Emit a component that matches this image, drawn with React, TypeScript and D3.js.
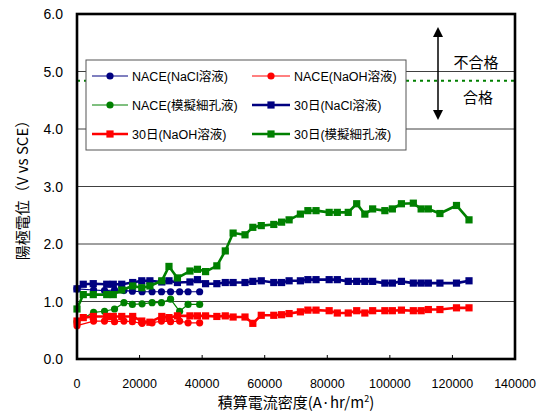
import * as d3 from 'd3';

const WIDTH = 544;
const HEIGHT = 416;
const PLOT = { left: 77, right: 515, top: 14, bottom: 359 } as const;

const X_TICKS = [0, 20000, 40000, 60000, 80000, 100000, 120000, 140000];
const Y_TICKS = [0, 1, 2, 3, 4, 5, 6];

// NACE runs (circles, thin lines)
const NACE_X = [0, 5300, 8800, 12000, 15000, 17700, 20800, 24000, 27000, 29900, 32800, 35500, 39200];
const NACE_NACL = [1.22, 1.2, 1.19, 1.2, 1.19, 1.18, 1.17, 1.17, 1.17, 1.17, 1.17, 1.17, 1.17];
const NACE_NAOH = [0.58, 0.66, 0.66, 0.65, 0.66, 0.65, 0.62, 0.63, 0.66, 0.65, 0.66, 0.63, 0.63];
const NACE_PORE = [0.65, 0.81, 0.83, 0.87, 0.98, 0.95, 0.96, 0.98, 0.98, 1.04, 0.83, 0.95, 0.95];

// 30-day runs (squares, thick lines)
const DAY30_X = [
  0, 2000, 5200, 9500, 11600, 14300, 17800, 20700, 23300, 27100,
  29400, 32100, 36100, 38500, 41100, 44700, 47400, 49900, 53700, 56200,
  58900, 62900, 65400, 67800, 71400, 73800, 76400, 80600, 83200, 86700,
  89400, 92000, 94500, 98400, 100800, 103700, 107500, 110000, 112300, 116000,
  121300, 125300,
];
const DAY30_NACL = [
  1.22, 1.3, 1.31, 1.3, 1.3, 1.3, 1.33, 1.36, 1.36, 1.34,
  1.36, 1.33, 1.34, 1.38, 1.31, 1.31, 1.33, 1.33, 1.33, 1.35,
  1.36, 1.33, 1.33, 1.36, 1.36, 1.38, 1.38, 1.38, 1.38, 1.35,
  1.35, 1.35, 1.35, 1.32, 1.32, 1.35, 1.32, 1.32, 1.32, 1.32,
  1.32, 1.36,
];
const DAY30_NAOH = [
  0.66, 0.72, 0.74, 0.74, 0.74, 0.74, 0.74, 0.66, 0.64, 0.74,
  0.72, 0.75, 0.75, 0.75, 0.75, 0.74, 0.75, 0.73, 0.73, 0.62,
  0.76, 0.76, 0.77, 0.79, 0.82, 0.85, 0.85, 0.84, 0.8, 0.8,
  0.84, 0.8, 0.84, 0.84, 0.84, 0.85, 0.84, 0.84, 0.86, 0.86,
  0.89, 0.89,
];
const DAY30_PORE = [
  0.87, 1.12, 1.12, 1.12, 1.12, 1.2, 1.27, 1.24, 1.27, 1.36,
  1.61, 1.41, 1.53, 1.56, 1.52, 1.62, 1.88, 2.19, 2.16, 2.29,
  2.32, 2.34, 2.38, 2.42, 2.52, 2.58, 2.58, 2.55, 2.55, 2.55,
  2.7, 2.52, 2.61, 2.58, 2.61, 2.7, 2.71, 2.61, 2.61, 2.53,
  2.67, 2.42,
];

const LIMIT_VALUE = 4.84;

const NAVY = '#000080';
const RED = '#ff0000';
const GREEN = '#008000';
const FONT = '"Liberation Sans", Arial, "Noto Sans CJK JP", sans-serif';
const JP_FONT = '"Noto Sans CJK JP", "Liberation Sans", sans-serif';

interface Series {
  label: string;
  xs: number[];
  ys: number[];
  color: string;
  kind: 'nace' | 'day30';
}

const SERIES: Series[] = [
  { label: 'NACE(NaCl溶液)', xs: NACE_X, ys: NACE_NACL, color: NAVY, kind: 'nace' },
  { label: 'NACE(NaOH溶液)', xs: NACE_X, ys: NACE_NAOH, color: RED, kind: 'nace' },
  { label: 'NACE(模擬細孔液)', xs: NACE_X, ys: NACE_PORE, color: GREEN, kind: 'nace' },
  { label: '30日(NaCl溶液)', xs: DAY30_X, ys: DAY30_NACL, color: NAVY, kind: 'day30' },
  { label: '30日(NaOH溶液)', xs: DAY30_X, ys: DAY30_NAOH, color: RED, kind: 'day30' },
  { label: '30日(模擬細孔液)', xs: DAY30_X, ys: DAY30_PORE, color: GREEN, kind: 'day30' },
];

function Marker({ kind, color, x, y }: { kind: Series['kind']; color: string; x: number; y: number }) {
  if (kind === 'nace') return <circle cx={x} cy={y} r={3.6} fill={color} />;
  return <rect x={x - 3.6} y={y - 3.6} width={7.2} height={7.2} fill={color} />;
}

export default function App() {
  const xScale = d3.scaleLinear().domain([0, 140000]).range([PLOT.left, PLOT.right]);
  const yScale = d3.scaleLinear().domain([0, 6]).range([PLOT.bottom, PLOT.top]);

  const line = d3
    .line<[number, number]>()
    .x((d) => xScale(d[0]))
    .y((d) => yScale(d[1]));

  // draw order: NACE first, then the 30-day runs on top
  const drawOrder = [2, 0, 1, 3, 4, 5].map((i) => SERIES[i]);

  const legendRows = [
    [SERIES[0], SERIES[1]],
    [SERIES[2], SERIES[3]],
    [SERIES[4], SERIES[5]],
  ];
  const legendCols = [92, 252];
  const legendRowY = [76, 105, 134];

  const arrowX = 438;
  const arrowTop = 27;
  const arrowBottom = 120;

  return (
    <svg
      width={WIDTH}
      height={HEIGHT}
      viewBox={`0 0 ${WIDTH} ${HEIGHT}`}
      style={{ position: 'absolute', left: 0, top: 0, background: '#fff' }}
    >
      {/* grid */}
      {Y_TICKS.filter((t) => t > 0 && t < 6).map((t) => (
        <line
          key={t}
          x1={PLOT.left}
          x2={PLOT.right}
          y1={yScale(t)}
          y2={yScale(t)}
          stroke="#404040"
          strokeWidth={1}
        />
      ))}

      {/* pass/fail limit */}
      <line
        x1={PLOT.left}
        x2={PLOT.right}
        y1={yScale(LIMIT_VALUE)}
        y2={yScale(LIMIT_VALUE)}
        stroke={GREEN}
        strokeWidth={2}
        strokeDasharray="3 4"
      />

      {/* series */}
      {drawOrder.map((s) => {
        const pts = s.xs.map((x, i) => [x, s.ys[i]] as [number, number]);
        return (
          <g key={s.label}>
            <path
              d={line(pts) ?? ''}
              fill="none"
              stroke={s.color}
              strokeWidth={s.kind === 'nace' ? 1.2 : 2.6}
              strokeLinejoin="round"
            />
            {pts.map((p, i) => (
              <Marker key={i} kind={s.kind} color={s.color} x={xScale(p[0])} y={yScale(p[1])} />
            ))}
          </g>
        );
      })}

      {/* frame */}
      <rect
        x={PLOT.left}
        y={PLOT.top}
        width={PLOT.right - PLOT.left}
        height={PLOT.bottom - PLOT.top}
        fill="none"
        stroke="#000"
        strokeWidth={2.6}
      />

      {/* x ticks */}
      {X_TICKS.map((t) => (
        <g key={t}>
          <line x1={xScale(t)} x2={xScale(t)} y1={PLOT.bottom} y2={PLOT.bottom - 4} stroke="#000" strokeWidth={1} />
          <text
            x={xScale(t)}
            y={388}
            textAnchor="middle"
            fontFamily={FONT}
            fontSize={12.5}
            fill="#000"
          >
            {t}
          </text>
        </g>
      ))}

      {/* y ticks */}
      {Y_TICKS.map((t) => (
        <text
          key={t}
          x={63}
          y={yScale(t) + 5}
          textAnchor="end"
          fontFamily={FONT}
          fontSize={14}
          fill="#000"
        >
          {t.toFixed(1)}
        </text>
      ))}

      {/* axis titles */}
      <text x={296} y={408} textAnchor="middle" fontFamily={JP_FONT} fontSize={15} fill="#000">
        積算電流密度(A·hr/m
        <tspan dy={-6} fontSize={9}>2</tspan>
        <tspan dy={6}>)</tspan>
      </text>
      <text
        transform={`translate(28, ${(PLOT.top + PLOT.bottom) / 2}) rotate(-90)`}
        textAnchor="middle"
        fontFamily={JP_FONT}
        fontSize={15}
        fill="#000"
      >
        陽極電位（V vs SCE）
      </text>

      {/* legend */}
      <rect x={86} y={60} width={320} height={90} fill="#fff" stroke="#555" strokeWidth={1} />
      {legendRows.map((row, ri) =>
        row.map((s, ci) => {
          const lx = legendCols[ci];
          const ly = legendRowY[ri];
          const len = ci === 0 ? 36 : 38;
          return (
            <g key={s.label}>
              <line
                x1={lx}
                x2={lx + len}
                y1={ly}
                y2={ly}
                stroke={s.color}
                strokeWidth={s.kind === 'nace' ? 1 : 2.6}
              />
              <Marker kind={s.kind} color={s.color} x={lx + len / 2} y={ly} />
              <text
                x={lx + len + 4}
                y={ly + 4.5}
                fontFamily={FONT}
                fontSize={12.5}
                fill="#000"
              >
                {s.label}
              </text>
            </g>
          );
        }),
      )}

      {/* pass/fail arrow and labels */}
      <line x1={arrowX} x2={arrowX} y1={arrowTop + 8} y2={arrowBottom - 8} stroke="#000" strokeWidth={1.5} />
      <path d={`M${arrowX},${arrowTop} L${arrowX - 5},${arrowTop + 10} L${arrowX + 5},${arrowTop + 10} Z`} fill="#000" />
      <path
        d={`M${arrowX},${arrowBottom} L${arrowX - 5},${arrowBottom - 10} L${arrowX + 5},${arrowBottom - 10} Z`}
        fill="#000"
      />
      <text x={476} y={68} textAnchor="middle" fontFamily={JP_FONT} fontSize={15} fill="#000">
        不合格
      </text>
      <text x={478} y={103} textAnchor="middle" fontFamily={JP_FONT} fontSize={15} fill="#000">
        合格
      </text>
    </svg>
  );
}
